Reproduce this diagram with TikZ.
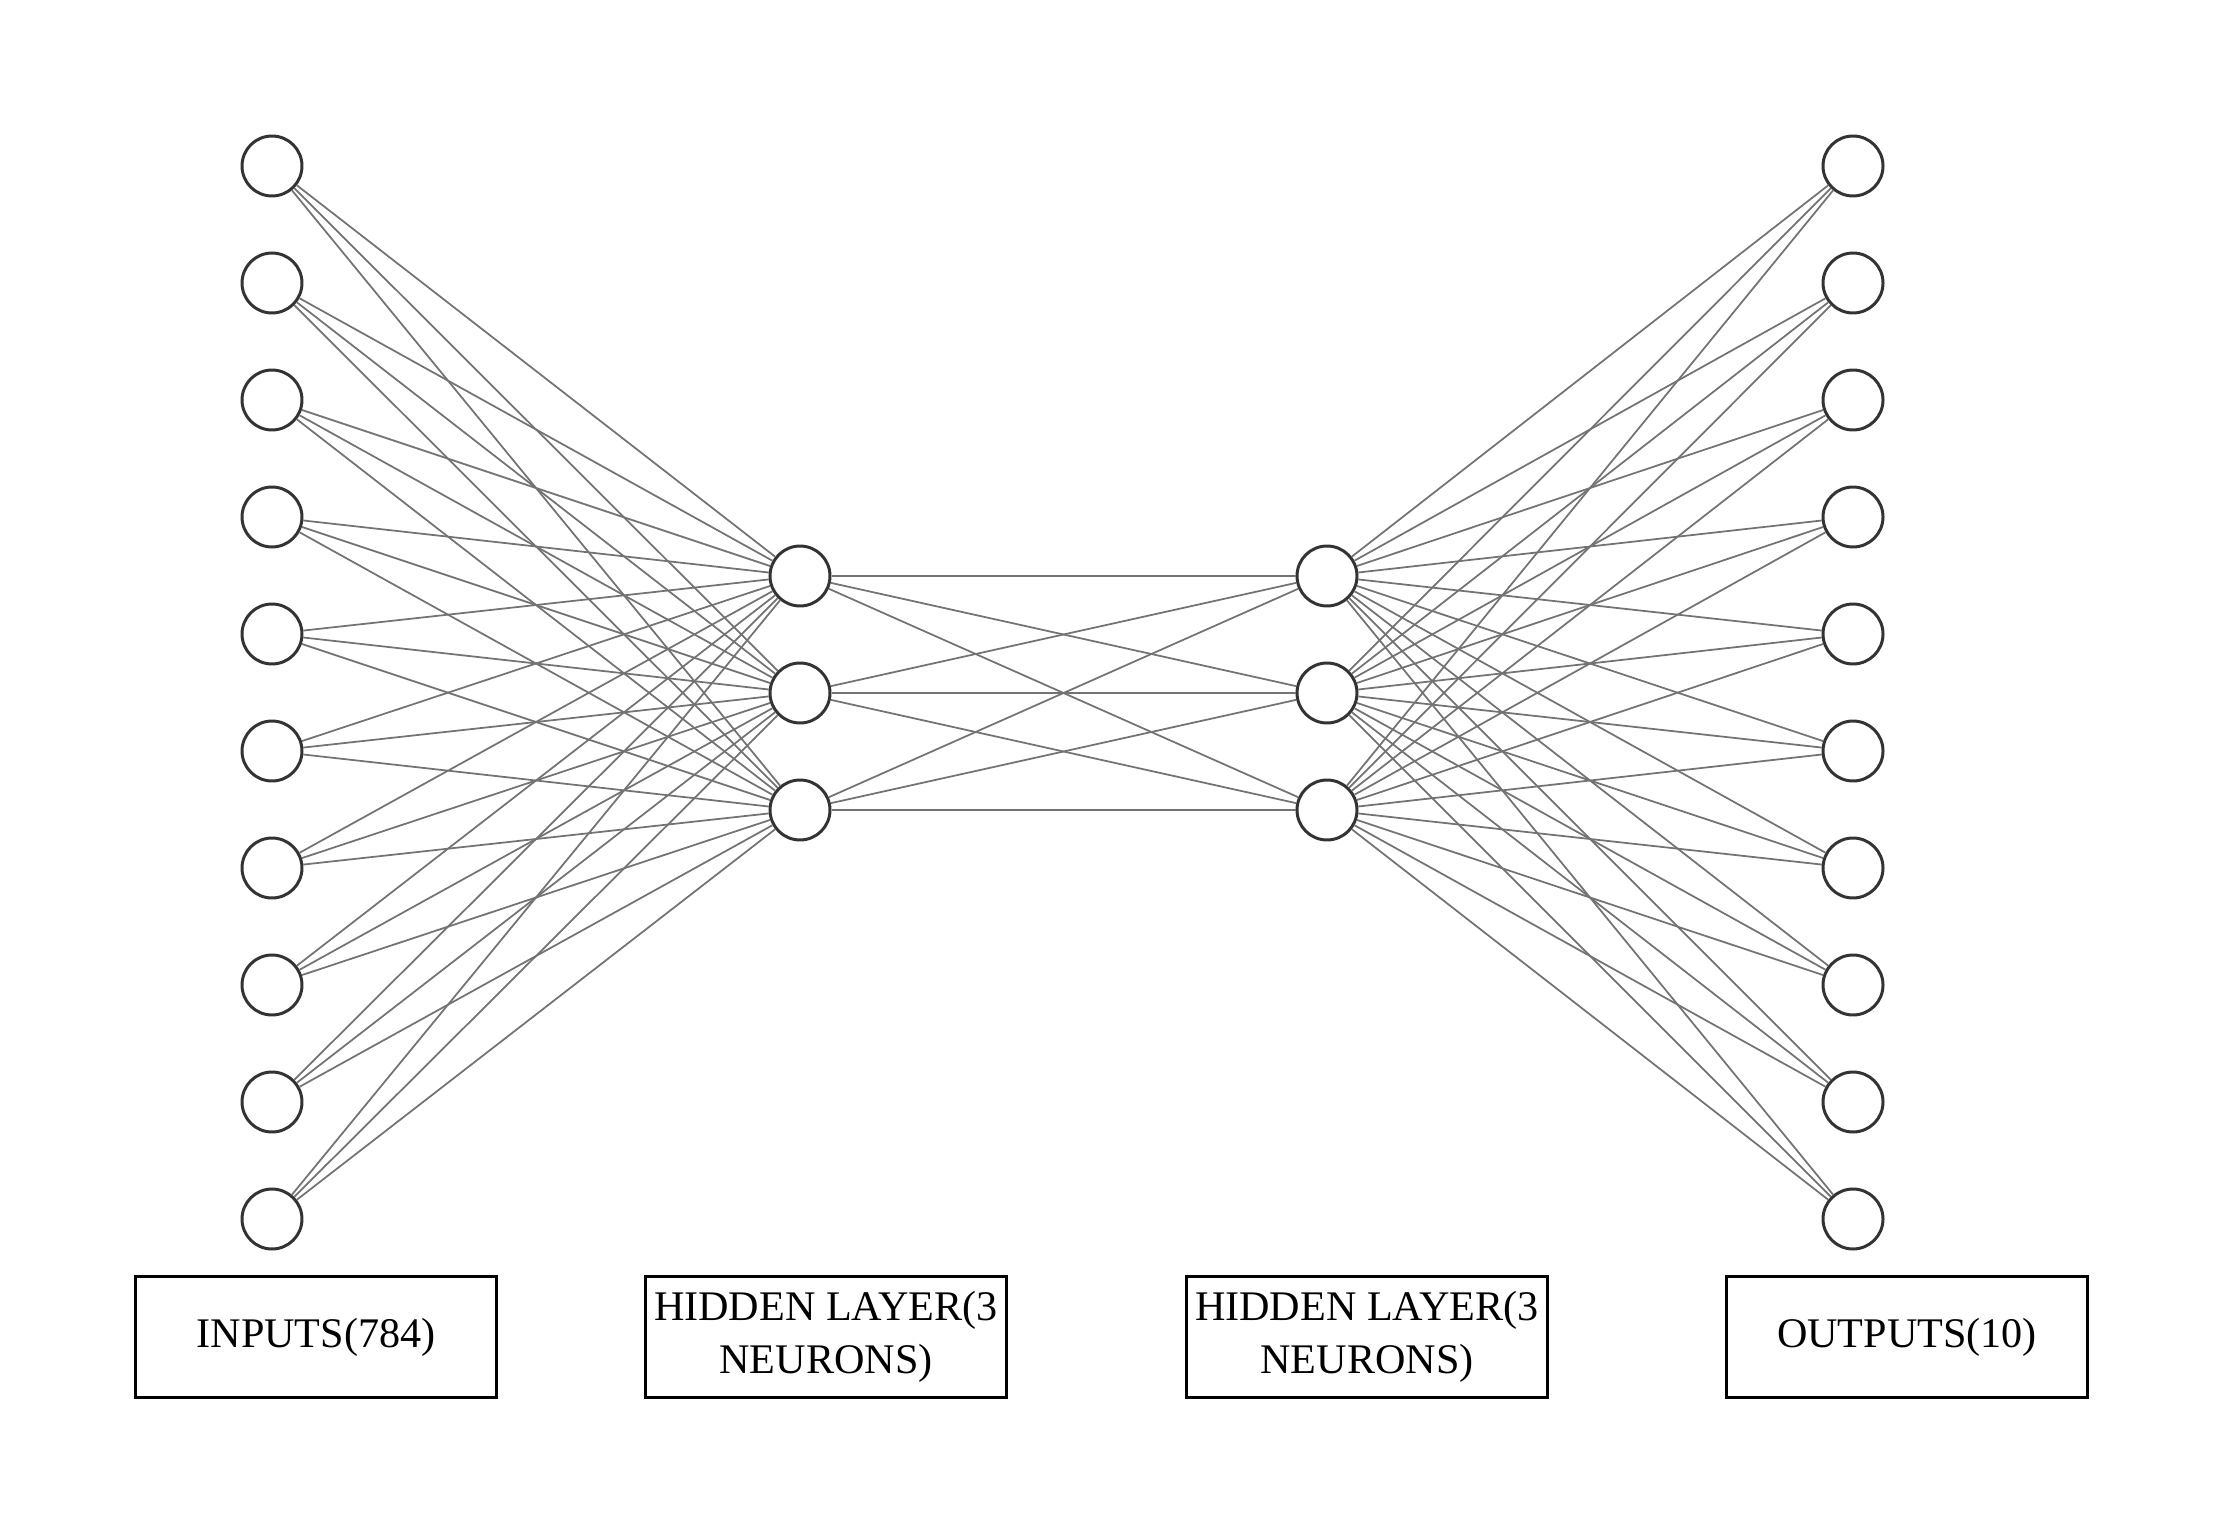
\documentclass[tikz,border=0pt]{standalone}
\usepackage{fontspec}
\setmainfont{Liberation Serif}
\usetikzlibrary{positioning}

\begin{document}
\begin{tikzpicture}[x=0.02cm, y=-0.02cm,
  neuron/.style={draw=black!80, line width=1.7pt, circle, minimum size=1.2cm, inner sep=0pt},
  link/.style={draw=black!55, line width=1pt},
  layerbox/.style={draw, line width=1.8pt, rectangle, minimum width=7.22cm, minimum height=2.42cm, align=center, font=\fontsize{24}{30}\selectfont}]
\useasboundingbox (0,0) rectangle (2223,1530);

% neurons
\foreach \i in {1,...,10} {
  \node (in\i) [neuron] at (272, 49+117*\i) {};
  \node (out\i) [neuron] at (1853, 49+117*\i) {};
}
\foreach \j in {1,2,3} {
  \node (ha\j) [neuron] at (800, 459+117*\j) {};
  \node (hb\j) [neuron] at (1327, 459+117*\j) {};
}

% connections
\foreach \i in {1,...,10}
  \foreach \j in {1,2,3} {
    \draw[link] (in\i) -- (ha\j);
    \draw[link] (hb\j) -- (out\i);
  }
\foreach \j in {1,2,3}
  \foreach \k in {1,2,3}
    \draw[link] (ha\j) -- (hb\k);

% layer labels
\node (inputs) [layerbox] at (316, 1337) {INPUTS(784)};
\node (hidden1) [layerbox] at (826, 1337) {HIDDEN LAYER(3\\NEURONS)};
\node (hidden2) [layerbox] at (1367, 1337) {HIDDEN LAYER(3\\NEURONS)};
\node (outputs) [layerbox] at (1907, 1337) {OUTPUTS(10)};
\end{tikzpicture}
\end{document}
